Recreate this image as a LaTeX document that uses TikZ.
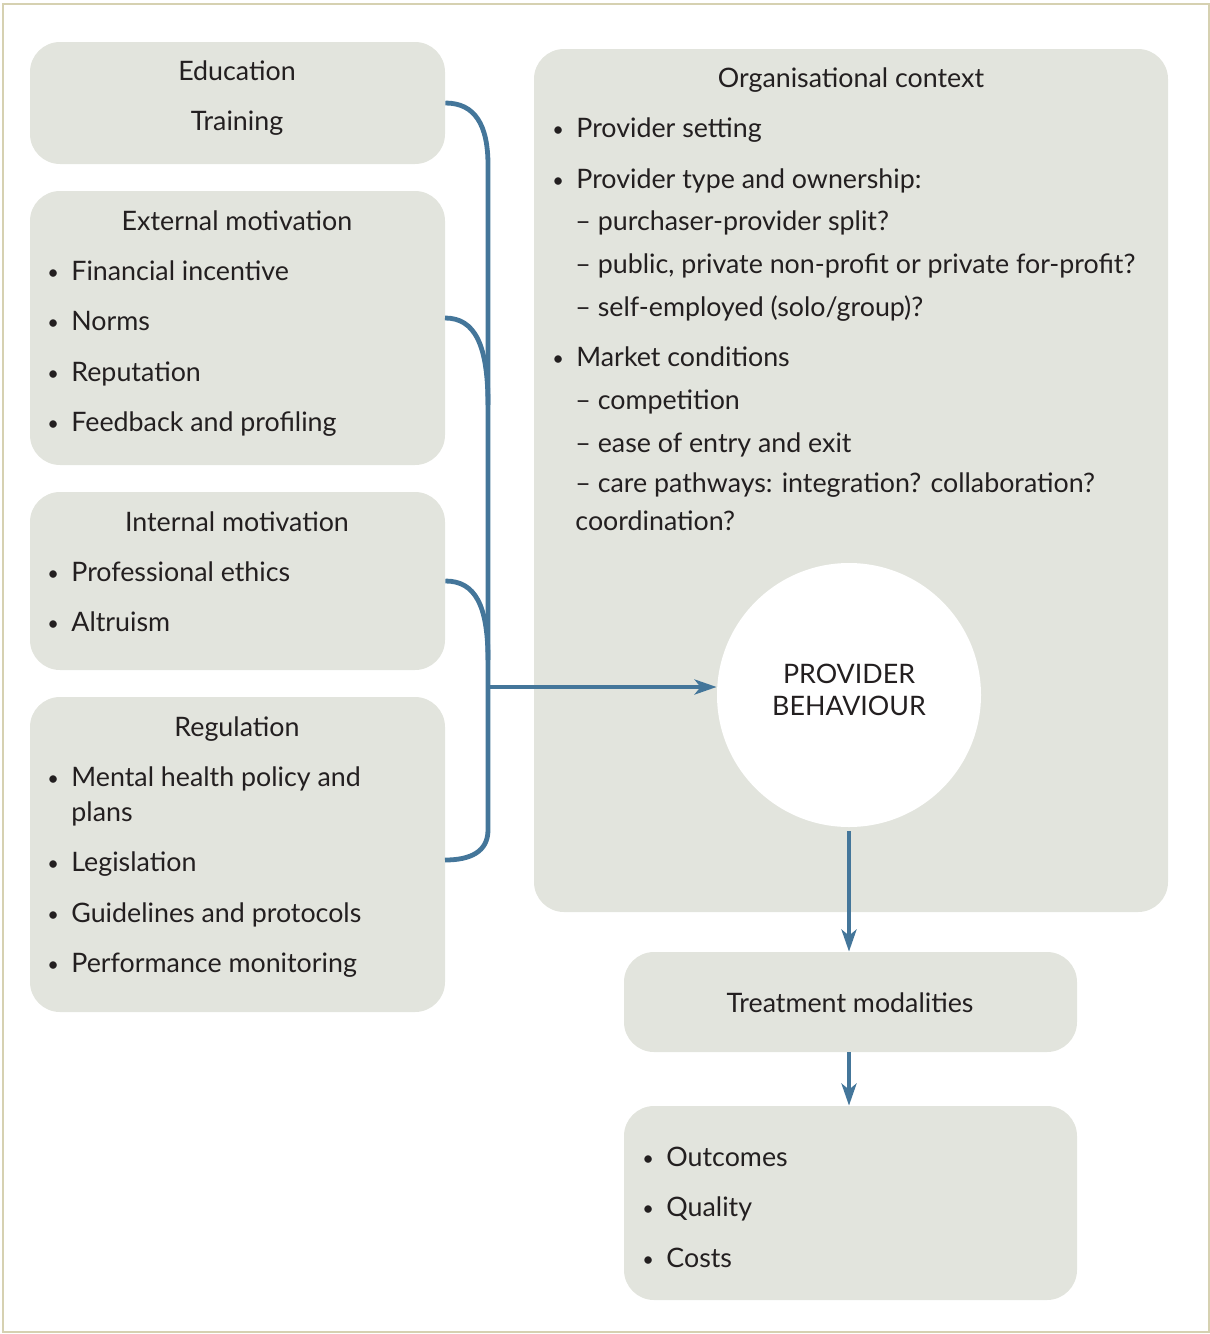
\documentclass[tikz,border=0pt]{standalone}
\usepackage{fontspec}
\setmainfont{Lato}
\usetikzlibrary{arrows.meta}
\definecolor{boxfill}{HTML}{E2E4DD}
\definecolor{linkblue}{HTML}{44769A}
\definecolor{framecol}{HTML}{D6D1B1}
\definecolor{ink}{HTML}{231F20}
\newcommand\itembul{\makebox[12pt][l]{\raisebox{0.5pt}{\fontsize{10}{10}\selectfont\textbullet}}}
\begin{document}
\begin{tikzpicture}[x=0.5pt,y=-0.5pt,
  panel/.style={rectangle, rounded corners=15pt, fill=boxfill, inner sep=0pt},
  txt/.style={anchor=base west, inner sep=0pt, text=ink, font=\fontsize{13.4}{16}\selectfont},
  ctr/.style={txt, anchor=base},
  link/.style={draw=linkblue, line width=2.4pt},
  arr/.style={link, -{Stealth[length=11pt,width=7.5pt,inset=3pt]}}
]
\useasboundingbox (0,0) rectangle (1210,1334);
\draw[framecol, line width=1pt] (3,4) rectangle (1209,1332);

% panels
\node[panel, minimum width=207.5pt, minimum height=61pt] (edu) at (237.5,103) {};
\node[panel, minimum width=207.5pt, minimum height=137pt] (ext) at (237.5,328) {};
\node[panel, minimum width=207.5pt, minimum height=89pt] (int) at (237.5,581) {};
\node[panel, minimum width=207.5pt, minimum height=157.5pt] (reg) at (237.5,854.5) {};
\node[panel, minimum width=317pt, minimum height=431.5pt] (org) at (851,480.5) {};
\node[panel, minimum width=226.5pt, minimum height=50pt] (treat) at (850.5,1002) {};
\node[panel, minimum width=226.5pt, minimum height=97pt] (res) at (850.5,1203) {};
\node[circle, fill=white, minimum size=132pt, inner sep=0pt] (pb) at (849,695) {};

% texts: education
\node[ctr] (t1) at (237,80) {Education};
\node[ctr] (t2) at (237,130) {Training};
% external motivation
\node[ctr] (t3) at (237,230) {External motivation};
\node[txt] (t4) at (47,280) {\itembul Financial incentive};
\node[txt] (t5) at (47,330) {\itembul Norms};
\node[txt] (t6) at (47,381) {\itembul Reputation};
\node[txt] (t7) at (47,431) {\itembul Feedback and profiling};
% internal motivation
\node[ctr] (t8) at (237,531) {Internal motivation};
\node[txt] (t9) at (47,581) {\itembul Professional ethics};
\node[txt] (t10) at (47,631) {\itembul Altruism};
% regulation
\node[ctr] (t11) at (237,736) {Regulation};
\node[txt] (t12) at (47,786) {\itembul Mental health policy and};
\node[txt] (t13) at (71,821) {plans};
\node[txt] (t14) at (47,871) {\itembul Legislation};
\node[txt] (t15) at (47,922) {\itembul Guidelines and protocols};
\node[txt] (t16) at (47,972) {\itembul Performance monitoring};
% organisational context
\node[ctr] (o1) at (851,87) {Organisational context};
\node[txt] (o2) at (552,137) {\itembul Provider setting};
\node[txt] (o3) at (552,188) {\itembul Provider type and ownership:};
\node[txt] (o4) at (575,230) {– purchaser-provider split?};
\node[txt] (o5) at (575,273) {– public, private non-profit or private for-profit?};
\node[txt] (o6) at (575,316) {– self-employed (solo/group)?};
\node[txt] (o7) at (552,366) {\itembul Market conditions};
\node[txt] (o8) at (575,409) {– competition};
\node[txt] (o9) at (575,452) {– ease of entry and exit};
\node[txt] (o10) at (575,492) {– care pathways: integration? collaboration?};
\node[txt] (o11) at (575,530) {coordination?};
% provider behaviour
\node[ctr] (p1) at (849,683) {PROVIDER};
\node[ctr] (p2) at (849,715) {BEHAVIOUR};
% treatment and results
\node[ctr] (m1) at (850,1012) {Treatment modalities};
\node[txt] (r1) at (642,1166) {\itembul Outcomes};
\node[txt] (r2) at (642,1216) {\itembul Quality};
\node[txt] (r3) at (642,1267) {\itembul Costs};

% bracket joining the four left panels
\coordinate (spine) at (488,687);
\coordinate (extout) at (445,318);
\coordinate (regout) at (445,860);
\draw[link] (edu.east) .. controls (475,103) and (488,125) .. (488,165) -- (488,830)
  .. controls (488,852) and (470,860) .. (regout);
\draw[link] (extout) .. controls (475,318) and (488,345) .. (488,405);
\draw[link] (int.east) .. controls (475,581) and (488,605) .. (488,660);

% arrows
\draw[arr] (spine) -- (spine -| pb.west);
\draw[arr] ([yshift=-2pt]pb.south) -- (pb.south |- treat.north);
\draw[arr] (treat.south -| pb.south) -- (pb.south |- res.north);
\end{tikzpicture}
\end{document}
